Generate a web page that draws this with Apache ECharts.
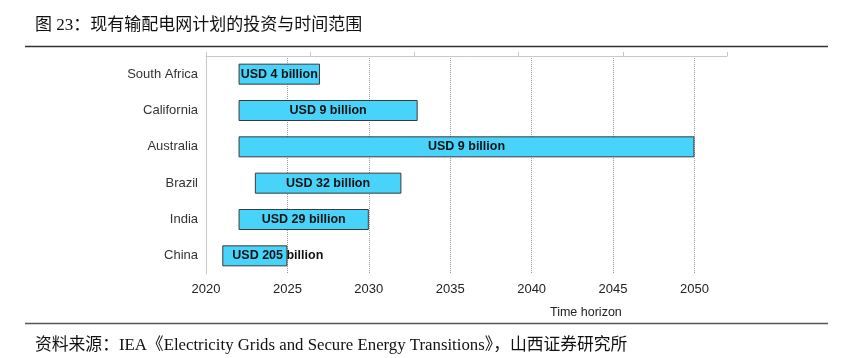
<!DOCTYPE html>
<html>
<head>
<meta charset="utf-8">
<script src="https://cdn.jsdelivr.net/npm/echarts@6/dist/echarts.min.js"></script>
<style>html,body{margin:0;padding:0;background:#fff;}#c{width:851px;height:358px;}</style>
</head>
<body>
<div id="c"></div>
<script>
const regions = ['South Africa', 'California', 'Australia', 'Brazil', 'India', 'China'];
const startYears = [2022, 2022, 2022, 2023, 2022, 2021];
const endYears = [2027, 2033, 2050, 2032, 2030, 2025];
const investments = ['USD 4 billion', 'USD 9 billion', 'USD 9 billion', 'USD 32 billion', 'USD 29 billion', 'USD 205 billion'];
const xTicks = [2020, 2025, 2030, 2035, 2040, 2045, 2050];

const titleText = '图 23：现有输配电网计划的投资与时间范围';
const sourceText = '资料来源：IEA《Electricity Grids and Secure Energy Transitions》，山西证券研究所';
const axisTitle = 'Time horizon';

const sans = "'Liberation Sans', Arial, sans-serif";
const mixed = "'Liberation Serif', 'Noto Sans CJK SC', serif";

const chart = echarts.init(document.getElementById('c'), null, {renderer: 'canvas'});

const durations = endYears.map((e, i) => e - startYears[i]);

chart.setOption({
  animation: false,
  backgroundColor: '#ffffff',
  grid: {left: 206, right: 124, top: 56, bottom: 84, containLabel: false},
  xAxis: [{
    type: 'value',
    position: 'bottom',
    min: 2020,
    max: 2052,
    interval: 5,
    axisLine: {show: false},
    axisTick: {show: false},
    axisLabel: {
      margin: 9,
      fontFamily: sans,
      fontSize: 13,
      color: '#222',
      formatter: v => xTicks.includes(v) ? String(v) : ''
    },
    splitLine: {
      show: true,
      showMinLine: false,
      showMaxLine: false,
      lineStyle: {color: '#9a9a9a', type: [1, 1], width: 1}
    }
  }, {
    type: 'value',
    position: 'top',
    min: 0,
    max: 5,
    interval: 1,
    axisLine: {show: true, lineStyle: {color: '#c8c8c8', width: 1}},
    axisTick: {show: true, length: 4, inside: false, lineStyle: {color: '#c8c8c8'}},
    axisLabel: {show: false},
    splitLine: {show: false}
  }],
  yAxis: {
    type: 'category',
    inverse: true,
    data: regions,
    axisLine: {show: true, lineStyle: {color: '#c8c8c8', width: 1}},
    axisTick: {show: false},
    axisLabel: {margin: 8, fontFamily: sans, fontSize: 13, color: '#333'}
  },
  series: [{
    type: 'bar',
    stack: 'span',
    xAxisIndex: 0,
    data: startYears,
    barWidth: 21,
    itemStyle: {color: 'rgba(0,0,0,0)'},
    silent: true
  }, {
    type: 'bar',
    stack: 'span',
    xAxisIndex: 0,
    barWidth: 21,
    data: durations.map((d, i) => {
      const item = {value: d};
      if (regions[i] === 'China') {
        item.label = {position: 'insideLeft', distance: 10};
      }
      return item;
    }),
    itemStyle: {color: '#48d3fb', borderColor: '#3a3a3a', borderWidth: 1},
    label: {
      show: true,
      position: 'inside',
      formatter: p => investments[p.dataIndex],
      fontFamily: sans,
      fontSize: 12.5,
      fontWeight: 'bold',
      color: '#111'
    }
  }],
  graphic: [
    {type: 'text', left: 35, top: 17, style: {text: titleText, font: '17px ' + mixed, fill: '#111'}},
    {type: 'line', shape: {x1: 25, y1: 46.5, x2: 828, y2: 46.5}, style: {stroke: '#333', lineWidth: 1.5}},
    {type: 'text', left: 550, top: 306, style: {text: axisTitle, font: '12.5px ' + sans, fill: '#222'}},
    {type: 'line', shape: {x1: 25, y1: 323.5, x2: 828, y2: 323.5}, style: {stroke: '#555', lineWidth: 1.5}},
    {type: 'text', left: 35, top: 337, style: {text: sourceText, font: '16.8px ' + mixed, fill: '#111'}}
  ]
});
</script>
</body>
</html>
